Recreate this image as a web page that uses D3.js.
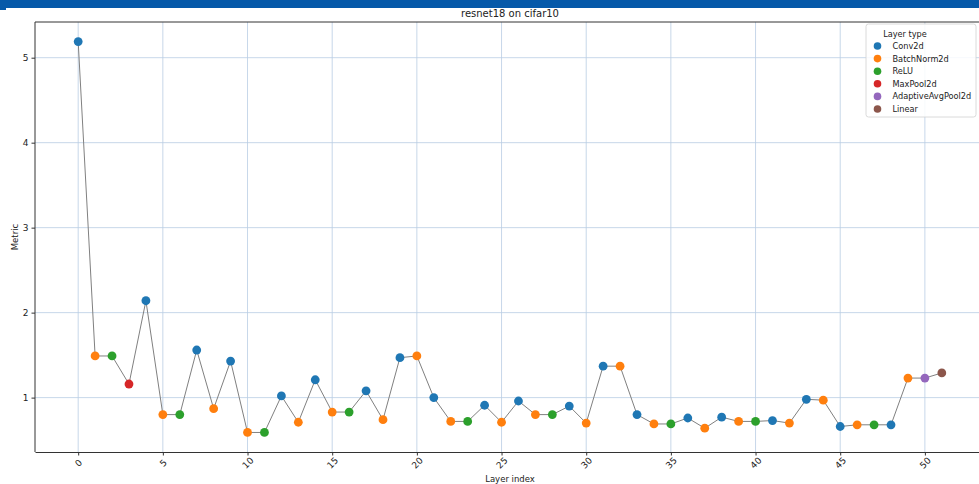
<!DOCTYPE html>
<html>
<head>
<meta charset="utf-8">
<script src="https://cdn.jsdelivr.net/npm/d3@7/dist/d3.min.js"></script>
<style>
  html, body { margin: 0; padding: 0; background: #fff; }
  svg { display: block; font-family: "DejaVu Sans", sans-serif; }
</style>
</head>
<body>
<svg id="chart" width="979" height="484"></svg>
<script>
// Per-layer metric for resnet18 on cifar10
const layerIndex = d3.range(52);
const layerTypes = [
  "Conv2d", "BatchNorm2d", "ReLU", "MaxPool2d", "Conv2d", "BatchNorm2d", "ReLU", "Conv2d", "BatchNorm2d", "Conv2d",
  "BatchNorm2d", "ReLU", "Conv2d", "BatchNorm2d", "Conv2d", "BatchNorm2d", "ReLU", "Conv2d", "BatchNorm2d", "Conv2d",
  "BatchNorm2d", "Conv2d", "BatchNorm2d", "ReLU", "Conv2d", "BatchNorm2d", "Conv2d", "BatchNorm2d", "ReLU", "Conv2d",
  "BatchNorm2d", "Conv2d", "BatchNorm2d", "Conv2d", "BatchNorm2d", "ReLU", "Conv2d", "BatchNorm2d", "Conv2d", "BatchNorm2d",
  "ReLU", "Conv2d", "BatchNorm2d", "Conv2d", "BatchNorm2d", "Conv2d", "BatchNorm2d", "ReLU", "Conv2d", "BatchNorm2d",
  "AdaptiveAvgPool2d", "Linear"
];
const metricValues = [
  5.19, 1.49, 1.49, 1.16, 2.14, 0.80, 0.80, 1.56, 0.87, 1.43,
  0.59, 0.59, 1.02, 0.71, 1.21, 0.83, 0.83, 1.08, 0.74, 1.47,
  1.49, 1.00, 0.72, 0.72, 0.91, 0.71, 0.96, 0.80, 0.80, 0.90,
  0.70, 1.37, 1.37, 0.80, 0.69, 0.69, 0.76, 0.64, 0.77, 0.72,
  0.72, 0.73, 0.70, 0.98, 0.97, 0.66, 0.68, 0.68, 0.68, 1.23,
  1.23, 1.29
];
const legendTypes = ["Conv2d", "BatchNorm2d", "ReLU", "MaxPool2d", "AdaptiveAvgPool2d", "Linear"];
const typeColors = ["#1f77b4", "#ff7f0e", "#2ca02c", "#d62728", "#9467bd", "#8c564b"];
const xTickValues = [0, 5, 10, 15, 20, 25, 30, 35, 40, 45, 50];
const yTickValues = [1, 2, 3, 4, 5];
const chartTitle = "resnet18 on cifar10";
const xLabel = "Layer index";
const yLabel = "Metric";

const points = layerIndex.map((i) => ({ i, v: metricValues[i], t: layerTypes[i] }));

const svg = d3.select("#chart");
const W = 979, H = 484;
const plot = { left: 35, top: 22, right: 985, bottom: 452 };

// Header band
svg.append("rect").attr("x", 0).attr("y", 0).attr("width", W).attr("height", 8).attr("fill", "#0659a9");
svg.append("rect").attr("x", 0).attr("y", 8).attr("width", 6).attr("height", 2).attr("fill", "#0659a9");

// Scales with 5% padding on each side
const xMin = 0, xMax = layerIndex.length - 1;
const xPad = (xMax - xMin) * 0.05;
const x = d3.scaleLinear().domain([xMin - xPad, xMax + xPad]).range([plot.left, plot.right]);
const yExt = d3.extent(metricValues);
const yPad = (yExt[1] - yExt[0]) * 0.05;
const y = d3.scaleLinear().domain([yExt[0] - yPad, yExt[1] + yPad]).range([plot.bottom, plot.top]);

const color = d3.scaleOrdinal().domain(legendTypes).range(typeColors);

svg.append("clipPath").attr("id", "plotclip")
  .append("rect").attr("x", plot.left).attr("y", plot.top)
  .attr("width", plot.right - plot.left).attr("height", plot.bottom - plot.top);

// Grid
const grid = svg.append("g").attr("stroke", "#b9cde3").attr("stroke-width", 0.8);
grid.selectAll("line.gx").data(xTickValues).join("line")
  .attr("x1", (d) => x(d)).attr("x2", (d) => x(d))
  .attr("y1", plot.top).attr("y2", plot.bottom);
grid.selectAll("line.gy").data(yTickValues).join("line")
  .attr("x1", plot.left).attr("x2", plot.right)
  .attr("y1", (d) => y(d)).attr("y2", (d) => y(d));

// Connecting line and markers
const g = svg.append("g").attr("clip-path", "url(#plotclip)");
g.append("path").datum(points)
  .attr("fill", "none").attr("stroke", "#808080").attr("stroke-width", 1)
  .attr("d", d3.line().x((d) => x(d.i)).y((d) => y(d.v)));
g.selectAll("circle").data(points).join("circle")
  .attr("cx", (d) => x(d.i)).attr("cy", (d) => y(d.v)).attr("r", 4.4)
  .attr("fill", (d) => color(d.t));

// Axes
const xAxis = svg.append("g").attr("transform", `translate(0,${plot.bottom})`)
  .call(d3.axisBottom(x).tickValues(xTickValues).tickSize(3.5).tickSizeOuter(0).tickFormat(d3.format("d")));
xAxis.select(".domain").attr("stroke", "#333").attr("stroke-width", 1);
xAxis.selectAll(".tick line").attr("stroke", "#333");
xAxis.selectAll(".tick text")
  .attr("font-size", 9).attr("fill", "#222").attr("font-family", "DejaVu Sans")
  .attr("text-anchor", "middle").attr("dy", null).attr("y", 11)
  .attr("dominant-baseline", "central")
  .attr("transform", "rotate(-45,0,11)");

const yAxis = svg.append("g").attr("transform", `translate(${plot.left},0)`)
  .call(d3.axisLeft(y).tickValues(yTickValues).tickSize(3.5).tickSizeOuter(0).tickFormat(d3.format("d")));
yAxis.select(".domain").remove();
yAxis.selectAll(".tick line").attr("stroke", "#333");
yAxis.selectAll(".tick text").attr("font-size", 9).attr("fill", "#222").attr("font-family", "DejaVu Sans");

// Frame (left, top, bottom)
svg.append("path")
  .attr("d", `M${plot.right},${plot.top}H${plot.left}V${plot.bottom}`)
  .attr("fill", "none").attr("stroke", "#333").attr("stroke-width", 1);

// Labels
svg.append("text").attr("x", (plot.left + plot.right) / 2).attr("y", 17)
  .attr("text-anchor", "middle").attr("font-size", 10).attr("fill", "#222").text(chartTitle);
svg.append("text").attr("x", (plot.left + plot.right) / 2).attr("y", 482)
  .attr("text-anchor", "middle").attr("font-size", 8.5).attr("fill", "#222").text(xLabel);
svg.append("text").attr("transform", `translate(18,${(plot.top + plot.bottom) / 2}) rotate(-90)`)
  .attr("text-anchor", "middle").attr("font-size", 8.5).attr("fill", "#222").text(yLabel);

// Legend
const legend = svg.append("g").attr("transform", "translate(866,24)");
legend.append("rect").attr("x", 0).attr("y", 0).attr("width", 110).attr("height", 93)
  .attr("rx", 2.5).attr("fill", "#fff").attr("fill-opacity", 0.85)
  .attr("stroke", "#d0d0d0").attr("stroke-width", 0.8);
legend.append("text").attr("x", 39).attr("y", 12.5).attr("text-anchor", "middle")
  .attr("font-size", 8.2).attr("fill", "#222").text("Layer type");
const items = legend.selectAll("g.item").data(legendTypes).join("g")
  .attr("transform", (d, k) => `translate(0,${22 + k * 12.6})`);
items.append("circle").attr("cx", 11.5).attr("cy", 0).attr("r", 3.8).attr("fill", (d) => color(d));
items.append("text").attr("x", 26.5).attr("y", 0).attr("dominant-baseline", "central")
  .attr("font-size", 8.2).attr("fill", "#222").text((d) => d);
</script>
</body>
</html>
